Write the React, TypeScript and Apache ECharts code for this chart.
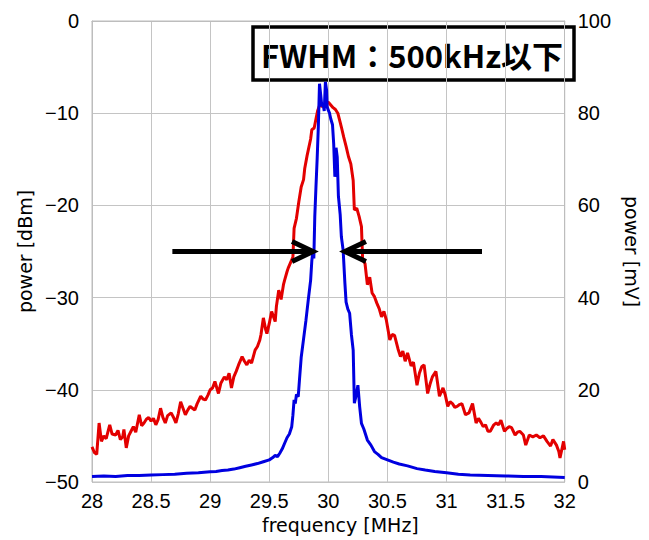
import React, { useEffect, useRef } from "react";
import * as echarts from "echarts";

const xTicks = { min: 28, max: 32, interval: 0.5 };
const leftTicks = { min: -50, max: 0, interval: 10 };
const rightTicks = { min: 0, max: 100, interval: 20 };

const redFreq = [
  28.0, 28.02, 28.04, 28.06, 28.08, 28.1, 28.12, 28.15, 28.17, 28.2, 28.22, 28.24, 28.26, 28.27, 28.29,
  28.31, 28.33, 28.35, 28.37, 28.4, 28.42, 28.44, 28.46, 28.48, 28.5, 28.52, 28.54, 28.56, 28.58, 28.6,
  28.62, 28.64, 28.67, 28.69, 28.71, 28.73, 28.75, 28.77, 28.79, 28.81, 28.83, 28.85, 28.87, 28.89, 28.92,
  28.94, 28.96, 28.98, 29.0, 29.02, 29.04, 29.07, 29.09, 29.12, 29.14, 29.16, 29.18, 29.2, 29.22, 29.24,
  29.27, 29.29, 29.31, 29.33, 29.35, 29.38, 29.4, 29.42, 29.43, 29.45, 29.47, 29.48, 29.5, 29.52, 29.55,
  29.56, 29.58, 29.6, 29.62, 29.63, 29.65, 29.66, 29.68, 29.7, 29.71, 29.73, 29.75, 29.77, 29.79, 29.8,
  29.82, 29.83, 29.85, 29.86, 29.88, 29.9, 29.91, 29.93, 29.95, 29.97, 30.0, 30.02, 30.04, 30.06, 30.08,
  30.1, 30.11, 30.13, 30.15, 30.17, 30.19, 30.21, 30.22, 30.24, 30.26, 30.28, 30.29, 30.31, 30.33, 30.35,
  30.37, 30.39, 30.41, 30.43, 30.45, 30.47, 30.49, 30.52, 30.54, 30.56, 30.59, 30.61, 30.63, 30.65, 30.67,
  30.7, 30.72, 30.75, 30.77, 30.79, 30.81, 30.84, 30.86, 30.88, 30.91, 30.94, 30.97, 30.99, 31.01, 31.03,
  31.05, 31.07, 31.09, 31.11, 31.13, 31.16, 31.19, 31.22, 31.25, 31.27, 31.29, 31.31, 31.33, 31.35, 31.37,
  31.4, 31.42, 31.44, 31.46, 31.49, 31.51, 31.53, 31.55, 31.58, 31.6, 31.62, 31.65, 31.67, 31.7, 31.73,
  31.76, 31.79, 31.82, 31.85, 31.88, 31.9, 31.93, 31.95, 31.96, 31.98, 31.99, 32.0,
];
const redDbm = [
  -46.2, -46.8, -47.0, -43.6, -45.6, -45.0, -45.3, -43.8, -44.8, -44.9, -44.4, -45.4, -45.1, -44.3, -46.3,
  -45.0, -44.5, -44.0, -44.6, -42.7, -43.9, -43.6, -43.2, -43.0, -43.4, -43.1, -43.8, -43.2, -42.0, -43.0,
  -43.6, -42.8, -42.5, -43.0, -43.6, -42.6, -41.3, -42.0, -42.7, -42.2, -41.8, -42.0, -42.2, -41.5, -40.7,
  -41.0, -41.1, -40.6, -40.0, -39.8, -39.1, -40.4, -39.3, -38.6, -38.9, -38.2, -39.8, -38.6, -38.0, -37.3,
  -36.4, -36.9, -37.3, -36.8, -37.1, -35.7, -35.3, -34.6, -34.0, -32.2, -33.5, -33.9, -32.8, -31.5, -32.6,
  -31.0, -29.2, -30.2, -28.6, -28.1, -27.2, -26.8, -26.2, -25.6, -22.5, -21.4, -19.6, -18.0, -17.2, -16.0,
  -14.6, -14.0, -12.8, -11.8, -11.6, -10.3, -9.7, -9.0, -9.3, -9.0, -8.8, -9.1, -9.4, -9.6, -10.0,
  -11.0, -11.5, -12.6, -13.6, -14.7, -15.5, -17.3, -20.5, -20.3, -21.2, -22.3, -25.9, -26.3, -28.6, -27.8,
  -29.5, -29.9, -30.6, -31.2, -32.1, -31.5, -32.4, -34.6, -34.0, -34.1, -35.6, -36.4, -35.8, -36.9, -36.0,
  -37.4, -37.0, -39.5, -38.2, -37.5, -37.3, -40.4, -39.4, -38.6, -38.0, -40.7, -39.8, -40.6, -41.8, -41.3,
  -41.5, -41.9, -41.8, -41.6, -41.5, -42.7, -42.5, -41.5, -43.6, -43.1, -43.5, -44.0, -43.8, -44.5, -44.5,
  -43.8, -43.6, -43.8, -43.3, -44.5, -44.2, -44.0, -44.1, -44.9, -44.6, -44.5, -44.9, -46.0, -44.9, -45.1,
  -44.9, -45.2, -45.0, -45.6, -46.1, -45.4, -46.0, -46.7, -47.4, -46.2, -45.6, -46.5,
];

const blueFreq = [
  28.0, 28.1, 28.2, 28.3, 28.4, 28.5, 28.6, 28.7, 28.8, 28.9, 29.0, 29.05, 29.1, 29.15, 29.2,
  29.25, 29.3, 29.35, 29.4, 29.45, 29.5, 29.53, 29.55, 29.57, 29.59, 29.61, 29.63, 29.65, 29.67, 29.69,
  29.7, 29.71, 29.72, 29.73, 29.745, 29.755, 29.77, 29.79, 29.81, 29.83, 29.85, 29.86, 29.87, 29.877, 29.885,
  29.895, 29.905, 29.915, 29.925, 29.935, 29.945, 29.955, 29.965, 29.975, 29.985, 29.99, 30.0, 30.01, 30.02, 30.035,
  30.045, 30.055, 30.065, 30.075, 30.085, 30.1, 30.11, 30.125, 30.14, 30.15, 30.165, 30.18, 30.195, 30.21, 30.22,
  30.235, 30.25, 30.265, 30.28, 30.3, 30.33, 30.36, 30.39, 30.42, 30.45, 30.5, 30.55, 30.6, 30.67, 30.75,
  30.82, 30.9, 31.0, 31.1, 31.2, 31.35, 31.5, 31.65, 31.8, 32.0,
];
const blueMv = [
  1.2, 1.3, 1.2, 1.4, 1.4, 1.5, 1.6, 1.7, 1.9, 2.0, 2.2, 2.3, 2.5, 2.6, 2.8,
  3.1, 3.4, 3.7, 4.0, 4.4, 4.8, 5.3, 5.8, 5.5, 6.3, 7.2, 8.4, 9.6, 10.4, 12.0,
  14.5, 17.8, 17.0, 19.0, 18.5, 22.0, 27.0, 31.0, 35.0, 39.5, 43.8, 48.0, 50.3, 48.5, 57.5,
  64.0, 70.0, 77.0, 86.4, 84.0, 81.5, 82.1, 80.5, 86.8, 85.0, 81.4, 80.6, 80.0, 78.8, 77.5,
  73.4, 66.2, 72.5, 70.5, 62.0, 58.0, 53.2, 50.3, 43.1, 39.0, 37.5, 36.6, 32.0, 28.6, 17.1,
  18.8, 21.0, 16.3, 12.7, 11.5, 9.1, 8.0, 6.6, 6.0, 5.3, 4.8, 4.3, 3.9, 3.5, 2.9,
  2.6, 2.3, 2.0, 1.7, 1.5, 1.4, 1.3, 1.2, 1.2, 1.0,
];

// arrows: [start freq, level dBm, tip freq]
const arrowData = [
  [28.68, -25, 29.87],
  [31.3, -25, 30.14],
];

const titleText = "FWHM：500kHz以下";
const leftName = "power [dBm]";
const rightName = "power [mV]";
const xName = "frequency [MHz]";

export default function App() {
  const ref = useRef<HTMLDivElement>(null);
  useEffect(() => {
    if (!ref.current) return;
    const chart = echarts.init(ref.current, undefined, { renderer: "svg" });
    const labelStyle = { fontFamily: "Liberation Sans", fontSize: 20, color: "#000" };
    const nameStyle = { fontFamily: "DejaVu Sans", fontSize: 19, color: "#000" };
    const gridLine = { show: true, lineStyle: { color: "#c4c4c4", width: 1 } };
    const axisLine = { show: true, lineStyle: { color: "#bdbdbd", width: 1 } };
    chart.setOption({
      animation: false,
      backgroundColor: "#fff",
      grid: { left: 92, right: 80, top: 21, bottom: 58, show: true, borderColor: "#bdbdbd", borderWidth: 1 },
      xAxis: {
        type: "value",
        ...xTicks,
        name: xName,
        nameLocation: "middle",
        nameGap: 33,
        nameTextStyle: { ...nameStyle, padding: [0, 0, 0, 24] },
        axisLine,
        axisTick: { show: false },
        splitLine: gridLine,
        axisLabel: { ...labelStyle, margin: 9, formatter: (v: number) => String(v) },
      },
      yAxis: [
        {
          type: "value",
          ...leftTicks,
          position: "left",
          name: leftName,
          nameLocation: "middle",
          nameRotate: 90,
          nameGap: 58,
          nameTextStyle: nameStyle,
          axisLine,
          axisTick: { show: false },
          splitLine: gridLine,
          axisLabel: { ...labelStyle, margin: 13, formatter: (v: number) => String(v).replace("-", "\u2212") },
        },
        {
          type: "value",
          ...rightTicks,
          position: "right",
          name: rightName,
          nameLocation: "middle",
          nameRotate: -90,
          nameGap: 44,
          nameTextStyle: nameStyle,
          axisLine,
          axisTick: { show: false },
          splitLine: { show: false },
          axisLabel: { ...labelStyle, margin: 13 },
        },
      ],
      series: [
        {
          type: "line",
          yAxisIndex: 0,
          data: redFreq.map((f, i) => [f, redDbm[i]]),
          showSymbol: false,
          lineStyle: { color: "#e30000", width: 3 },
          z: 2,
        },
        {
          type: "line",
          yAxisIndex: 1,
          data: blueFreq.map((f, i) => [f, blueMv[i]]),
          showSymbol: false,
          lineStyle: { color: "#0000e0", width: 3 },
          z: 3,
        },
        {
          type: "custom",
          yAxisIndex: 0,
          clip: false,
          z: 5,
          encode: { x: [0, 2], y: 1 },
          data: arrowData,
          renderItem: (params: any, api: any) => {
            const y = api.value(1);
            const a = api.coord([api.value(0), y]);
            const b = api.coord([api.value(2), y]);
            const dir = b[0] > a[0] ? 1 : -1;
            const hx = 21;
            const hy = 10;
            return {
              type: "group",
              children: [
                {
                  type: "line",
                  shape: { x1: a[0], y1: a[1], x2: b[0] - dir * 3, y2: b[1] },
                  style: { stroke: "#000", lineWidth: 5 },
                },
                {
                  type: "polyline",
                  shape: { points: [[b[0] - dir * hx, b[1] - hy], [b[0], b[1]], [b[0] - dir * hx, b[1] + hy]] },
                  style: { stroke: "#000", lineWidth: 5, fill: null },
                },
              ],
            };
          },
        },
      ],
      graphic: [
        {
          type: "group",
          z: 10,
          children: [
            {
              type: "rect",
              shape: { x: 253, y: 27, width: 321, height: 53 },
              style: { fill: "#fff", stroke: "#000", lineWidth: 3.5 },
            },
            {
              type: "text",
              x: 412,
              y: 54,
              style: {
                text: titleText,
                fill: "#000",
                font: 'bold 31px "Noto Sans CJK JP"',
                textAlign: "center",
                textVerticalAlign: "middle",
              },
            },
          ],
        },
      ],
    });
    return () => chart.dispose();
  }, []);
  return <div ref={ref} style={{ position: "fixed", left: 0, top: 0, width: 649, height: 540 }} />;
}
